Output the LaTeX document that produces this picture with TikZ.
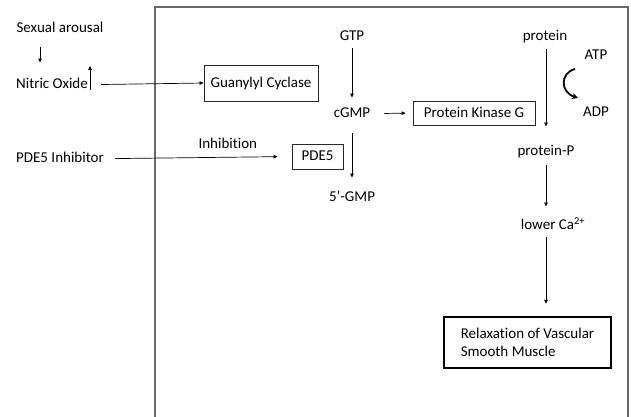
\documentclass[tikz,border=0pt]{standalone}
\usepackage{fontspec}
\setmainfont{Carlito}[Ligatures={NoCommon}]
\usetikzlibrary{arrows.meta, positioning}
\definecolor{framegray}{RGB}{105,105,105}
\definecolor{inkgray}{RGB}{40,40,40}

\begin{document}
\begin{tikzpicture}[
    x=1pt, y=-1pt,
    >={Triangle[length=4pt, width=3.5pt]},
    every node/.style={font=\fontsize{15}{18}\selectfont, inner sep=0pt, text height=11pt, text depth=3pt},
    chem/.style={},
    enzyme/.style={draw=inkgray, line width=0.8pt},
    arr/.style={->, line width=0.7pt},
]
    \useasboundingbox (0,0) rectangle (631,416);

    % Frame of the cell
    \draw[framegray, line width=1.3pt] (155,440) -- (155,7) -- (628,7) -- (628,440);

    % Left side: stimuli
    \node[chem] (arousal) at (60,28.7) {Sexual arousal};
    \node[chem] (no) at (52,84.7) {Nitric Oxide};
    \node[chem] (inhib) at (60,158.7) {PDE5 Inhibitor};

    % Enzymes
    \node[enzyme, minimum width=114pt, minimum height=36pt] (gc) at (261,83) {Guanylyl Cyclase};
    \node[enzyme, minimum width=51pt, minimum height=25pt] (pde) at (317.5,156.5) {PDE5};
    \node[enzyme, minimum width=122pt, minimum height=24pt] (pkg) at (474,113) {Protein Kinase G};

    % cGMP pathway
    \node[chem] (gtp) at (352,36.7) {GTP};
    \node[chem] (cgmp) at (352,113.7) {cGMP};
    \node[chem] (gmp) at (352,197.7) {5’-GMP};

    % Phosphorylation
    \node[chem] (prot) at (545,36.7) {protein};
    \node[chem] (protp) at (546,151.7) {protein-P};
    \node[chem] (atp) at (596,55.7) {ATP};
    \node[chem] (adp) at (596,112.7) {ADP};
    \node[chem] (ca) at (553,225.7) {lower Ca\textsuperscript{2+}};
    \node[draw, line width=2.4pt, minimum width=167pt, minimum height=51pt, align=left,
          font=\fontsize{15}{18}\selectfont, text height=, text depth=] (relax) at (527.5,342.5)
        {Relaxation of Vascular\\Smooth Muscle};

    % Arrows
    \draw[arr, shorten <=11pt, shorten >=15pt] (arousal.south -| 40,0) -- (no.north -| 40,0);
    \draw[arr] ([xshift=2pt,yshift=2pt]no.south east) -- ++(0,-24);
    \draw[arr, shorten <=13pt] (no.east) -- (gc.west);
    \draw[arr, shorten <=11pt, shorten >=14pt] (inhib.east) -- node[pos=0.66, above=5pt] (inhlabel) {Inhibition} (pde.west);

    \draw[arr, shorten <=4pt, shorten >=9pt] (gtp) -- (cgmp);
    \draw[arr, shorten <=14pt, shorten >=7pt] (cgmp.east) -- (pkg.west);
    \draw[arr, shorten <=12pt, shorten >=13pt] (cgmp) -- (gmp);

    \draw[arr, shorten <=5pt, shorten >=18pt] (protp |- prot.south) -- (protp.north);
    \draw[arr, shorten <=6pt, shorten >=12pt] (protp.south) -- (protp |- ca.north);
    \draw[arr, shorten <=4pt, shorten >=12pt] (protp |- ca.south) -- (protp |- relax.north);

    % ATP -> ADP
    \coordinate (atpout) at (575,69);
    \coordinate (adpin) at (578,98);
    \draw[-{Stealth[length=6pt, width=6pt]}, line width=1.8pt] (atpout) .. controls (560,73) and (560,92) .. (adpin);
\end{tikzpicture}
\end{document}
